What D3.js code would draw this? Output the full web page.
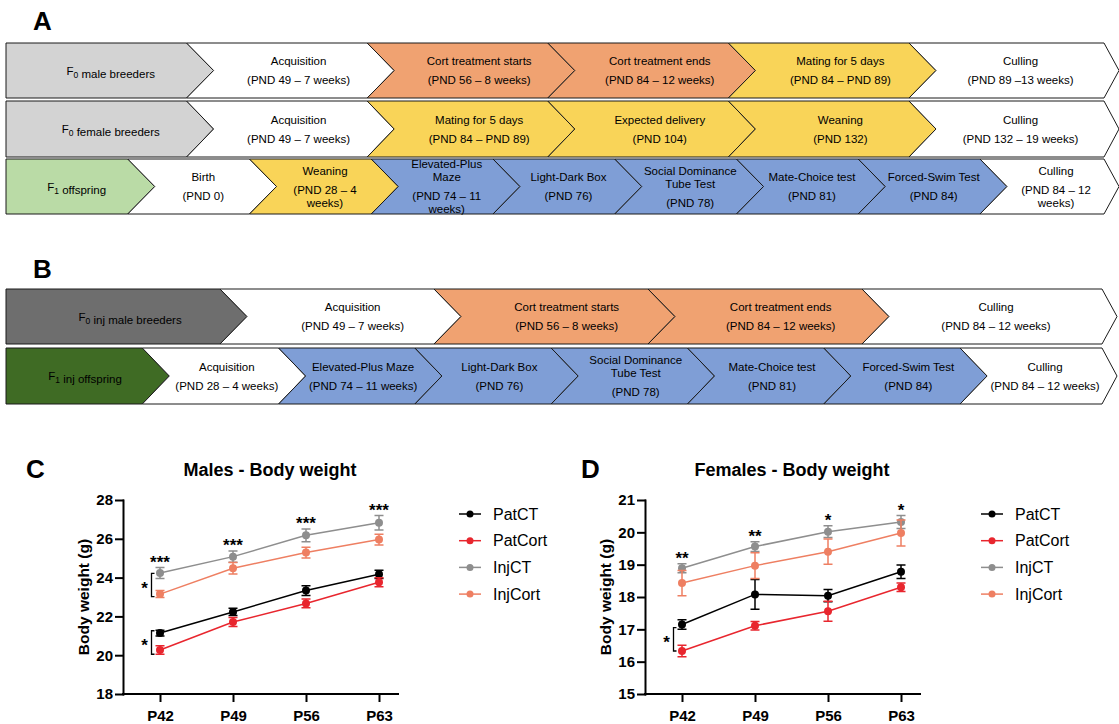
<!DOCTYPE html>
<html>
<head>
<meta charset="utf-8">
<script src="https://cdn.jsdelivr.net/npm/d3@7"></script>
<style>
  body { margin: 0; background: #fff; }
  svg { display: block; font-family: "Liberation Sans", Arial, sans-serif; }
</style>
</head>
<body>
<svg id="fig" width="1119" height="724"></svg>
<script>
// ---- timeline stages ("|" separates paragraphs, "~" is a wrapped line, "_0" a subscript)
var stagesA1 = ["F_0 male breeders", "Acquisition|(PND 49 – 7 weeks)", "Cort treatment starts|(PND 56 – 8 weeks)",
                "Cort treatment ends|(PND 84 – 12 weeks)", "Mating for 5 days|(PND 84 – PND 89)", "Culling|(PND 89 –13 weeks)"];
var fillsA1  = ["grey", "white", "cort", "cort", "yellow", "white"];

var stagesA2 = ["F_0 female breeders", "Acquisition|(PND 49 – 7 weeks)", "Mating for 5 days|(PND 84 – PND 89)",
                "Expected delivery|(PND 104)", "Weaning|(PND 132)", "Culling|(PND 132 – 19 weeks)"];
var fillsA2  = ["grey", "white", "yellow", "yellow", "yellow", "white"];

var stagesA3 = ["F_1 offspring", "Birth|(PND 0)", "Weaning|(PND 28 – 4~weeks)", "Elevated-Plus~Maze|(PND 74 – 11~weeks)",
                "Light-Dark Box|(PND 76)", "Social Dominance~Tube Test|(PND 78)", "Mate-Choice test|(PND 81)",
                "Forced-Swim Test|(PND 84)", "Culling|(PND 84 – 12~weeks)"];
var fillsA3  = ["green", "white", "yellow", "blue", "blue", "blue", "blue", "blue", "white"];

var stagesB1 = ["F_0 inj male breeders", "Acquisition|(PND 49 – 7 weeks)", "Cort treatment starts|(PND 56 – 8 weeks)",
                "Cort treatment ends|(PND 84 – 12 weeks)", "Culling|(PND 84 – 12 weeks)"];
var fillsB1  = ["dgrey", "white", "cort", "cort", "white"];

var stagesB2 = ["F_1 inj offspring", "Acquisition|(PND 28 – 4 weeks)", "Elevated-Plus Maze|(PND 74 – 11 weeks)",
                "Light-Dark Box|(PND 76)", "Social Dominance~Tube Test|(PND 78)", "Mate-Choice test|(PND 81)",
                "Forced-Swim Test|(PND 84)", "Culling|(PND 84 – 12 weeks)"];
var fillsB2  = ["dgreen", "white", "blue", "blue", "blue", "blue", "blue", "white"];

// ---- body weight data (mean, SEM)
var times  = ["P42", "P49", "P56", "P63"];
var groups = ["PatCT", "PatCort", "InjCT", "InjCort"];

var malePatCT      = [21.14, 22.23, 23.33, 24.17];
var malePatCTErr   = [0.15, 0.19, 0.25, 0.21];
var malePatCort    = [20.27, 21.71, 22.67, 23.76];
var malePatCortErr = [0.22, 0.23, 0.23, 0.23];
var maleInjCT      = [24.24, 25.08, 26.18, 26.83];
var maleInjCTErr   = [0.28, 0.29, 0.33, 0.37];
var maleInjCort    = [23.15, 24.48, 25.29, 25.96];
var maleInjCortErr = [0.18, 0.30, 0.28, 0.28];
var maleStars      = ["***", "***", "***", "***"];

var femPatCT      = [17.15, 18.08, 18.04, 18.78];
var femPatCTErr   = [0.15, 0.46, 0.19, 0.21];
var femPatCort    = [16.33, 17.11, 17.56, 18.30];
var femPatCortErr = [0.18, 0.13, 0.31, 0.13];
var femInjCT      = [18.89, 19.56, 20.02, 20.32];
var femInjCTErr   = [0.14, 0.15, 0.18, 0.20];
var femInjCort    = [18.43, 18.97, 19.40, 19.98];
var femInjCortErr = [0.39, 0.40, 0.39, 0.40];
var femStars      = ["**", "**", "*", "*"];

// P42 comparisons: [upper, lower] ends of each bracket
var maleBrackets = [[24.22, 23.02], [21.26, 20.05]];
var femBrackets  = [[17.05, 16.33]];

var palette = { grey: "#d3d3d3", white: "#ffffff", cort: "#f0a271", yellow: "#f9d458", blue: "#7f9ed6",
                green: "#badba6", dgrey: "#6e6e6e", dgreen: "#3f6b24" };
var groupColors = ["#000000", "#e8262e", "#8e8e8e", "#ee7f62"];

var svg = d3.select("#fig");

function label(txt, x, y, size) {
  svg.append("text").attr("x", x).attr("y", y).attr("font-size", size).attr("font-weight", "bold").text(txt);
}

function addLine(sel, line) {
  var parts = line.split(/_(\d)/);
  parts.forEach(function(p, k) {
    if (!p) return;
    if (k % 2 === 1) {
      sel.append("tspan").attr("dy", 3).attr("font-size", 8.5).text(p);
      sel.append("tspan").attr("dy", -3).text("");
    } else {
      sel.append("tspan").text(p);
    }
  });
}

function drawRow(row) {
  var n = row.stages.length, mid = (row.top + row.bot) / 2, d = 27;
  var g = svg.append("g");
  row.stages.forEach(function(st, i) {
    var x0 = row.start + i * row.w,
        x1 = i === n - 1 ? row.end : x0 + row.w,
        tip = i === n - 1 ? 15 : d;
    var pts = [[x0, row.top], [x1, row.top], [x1 + tip, mid], [x1, row.bot], [x0, row.bot]];
    if (i > 0) pts.push([x0 + d, mid]);
    g.append("path")
      .attr("d", "M" + pts.join("L") + "Z")
      .attr("fill", palette[row.fills[i]])
      .attr("stroke", "#1a1a1a")
      .attr("stroke-width", 1);

    var cx = (x0 + x1) / 2 + (i === 0 ? 0.08 * row.w : i === n - 1 ? 14 : 0.12 * row.w);
    var lines = [], pos = 0;
    st.split("|").forEach(function(par, j) {
      if (j > 0) pos += 19;
      par.split("~").forEach(function(l, k) {
        if (k > 0) pos += 13;
        lines.push({ text: l, y: pos });
      });
    });
    lines.forEach(function(l) {
      var t = g.append("text")
        .attr("x", cx)
        .attr("y", mid + l.y - pos / 2)
        .attr("dy", "0.35em")
        .attr("text-anchor", "middle")
        .attr("font-size", 11.5)
        .attr("fill", "#000");
      addLine(t, l.text);
    });
  });
}

label("A", 33, 30, 26);
label("B", 33, 278, 26);

drawRow({ stages: stagesA1, fills: fillsA1, top: 43,  bot: 98,  start: 6, w: 180.6, end: 1104 });
drawRow({ stages: stagesA2, fills: fillsA2, top: 101, bot: 157, start: 6, w: 180.6, end: 1104 });
drawRow({ stages: stagesA3, fills: fillsA3, top: 159, bot: 214, start: 6, w: 121.75, end: 1104 });
drawRow({ stages: stagesB1, fills: fillsB1, top: 289, bot: 344, start: 6, w: 214, end: 1102 });
drawRow({ stages: stagesB2, fills: fillsB2, top: 348, bot: 404, start: 6, w: 136.3, end: 1102 });

// ---- line charts
function drawChart(c) {
  var g = svg.append("g");
  var x = d3.scalePoint().domain(times).range([c.left + 37, c.left + 256]);
  var y = d3.scaleLinear().domain(c.yDomain).range([694, 500]);

  var ya = g.append("g").attr("transform", "translate(" + c.left + ",0)")
    .call(d3.axisLeft(y).tickValues(c.yTicks).tickFormat(d3.format("d")).tickSize(7).tickSizeOuter(0).tickPadding(3));
  var xa = g.append("g").attr("transform", "translate(0,694)")
    .call(d3.axisBottom(x).tickSize(7).tickSizeOuter(0).tickPadding(9));
  xa.select(".domain").attr("d", "M" + c.left + ",0H" + (c.left + 275));
  [ya, xa].forEach(function(a) {
    a.selectAll("path,line").attr("stroke", "#000").attr("stroke-width", 2).attr("stroke-linecap", "square");
    a.selectAll("text").attr("font-size", 15).attr("font-weight", "bold").attr("fill", "#000")
      .attr("font-family", "Liberation Sans, Arial, sans-serif");
  });

  g.append("text").attr("x", c.titleX).attr("y", 476).attr("text-anchor", "middle")
    .attr("font-size", 18).attr("font-weight", "bold").text(c.title);
  g.append("text").attr("transform", "translate(" + (c.left - 34) + ",597) rotate(-90)")
    .attr("text-anchor", "middle").attr("font-size", 15.5).attr("font-weight", "bold").text("Body weight (g)");

  var line = d3.line().x(function(d, i) { return x(times[i]); }).y(function(d) { return y(d); });

  c.means.forEach(function(m, gi) {
    var col = groupColors[gi], err = c.errs[gi];
    var sg = g.append("g");
    sg.append("path").attr("d", line(m)).attr("fill", "none").attr("stroke", col).attr("stroke-width", 1.5);
    m.forEach(function(v, i) {
      var px = x(times[i]), lo = y(v - err[i]), hi = y(v + err[i]);
      sg.append("path")
        .attr("d", "M" + px + "," + lo + "V" + hi + "M" + (px - 4.5) + "," + lo + "H" + (px + 4.5) + "M" + (px - 4.5) + "," + hi + "H" + (px + 4.5))
        .attr("stroke", col).attr("stroke-width", 1.5).attr("fill", "none");
      sg.append("circle").attr("cx", px).attr("cy", y(v)).attr("r", 4).attr("fill", col);
    });
  });

  // significance above InjCT
  c.stars.forEach(function(s, i) {
    var top = y(c.means[2][i] + c.errs[2][i]);
    g.append("text").attr("x", x(times[i])).attr("y", top).attr("text-anchor", "middle")
      .attr("font-size", 17).attr("font-weight", "bold").text(s);
  });

  c.brackets.forEach(function(b) {
    var bx = x(times[0]) - 8.5, y1 = y(b[0]), y2 = y(b[1]);
    g.append("path").attr("d", "M" + (bx + 3) + "," + y1 + "H" + bx + "V" + y2 + "H" + (bx + 3))
      .attr("fill", "none").attr("stroke", "#000").attr("stroke-width", 1.3);
    g.append("text").attr("x", bx - 7).attr("y", (y1 + y2) / 2 + 9).attr("text-anchor", "middle")
      .attr("font-size", 17).attr("font-weight", "bold").text("*");
  });

  groups.forEach(function(name, gi) {
    var ly = 514 + gi * 26.7, col = groupColors[gi];
    g.append("line").attr("x1", c.legendX).attr("x2", c.legendX + 22).attr("y1", ly).attr("y2", ly)
      .attr("stroke", col).attr("stroke-width", 1.5);
    g.append("circle").attr("cx", c.legendX + 11).attr("cy", ly).attr("r", 3.5).attr("fill", col);
    g.append("text").attr("x", c.legendX + 34).attr("y", ly).attr("dy", "0.35em").attr("font-size", 16).text(name);
  });
}

label("C", 26, 478, 26);
label("D", 581, 478, 26);

drawChart({
  left: 123, yDomain: [18, 28], yTicks: [18, 20, 22, 24, 26, 28],
  title: "Males - Body weight", titleX: 270, legendX: 459,
  means: [malePatCT, malePatCort, maleInjCT, maleInjCort],
  errs: [malePatCTErr, malePatCortErr, maleInjCTErr, maleInjCortErr],
  stars: maleStars, brackets: maleBrackets
});

drawChart({
  left: 645, yDomain: [15, 21], yTicks: [15, 16, 17, 18, 19, 20, 21],
  title: "Females - Body weight", titleX: 792, legendX: 981,
  means: [femPatCT, femPatCort, femInjCT, femInjCort],
  errs: [femPatCTErr, femPatCortErr, femInjCTErr, femInjCortErr],
  stars: femStars, brackets: femBrackets
});
</script>
</body>
</html>
